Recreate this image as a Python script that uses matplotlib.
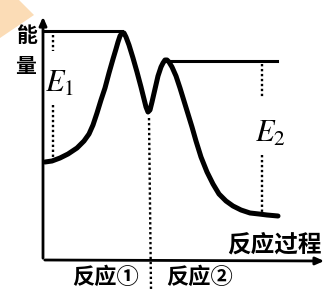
import matplotlib
matplotlib.use('Agg')
import matplotlib.pyplot as plt
from matplotlib.patches import Polygon

plt.rcParams['font.family'] = ['Noto Sans CJK SC', 'DejaVu Sans']
plt.rcParams['mathtext.fontset'] = 'stix'

# energy profile (x = progress, y = energy, pixel-like units, y grows downward)
curve_x = [45, 52, 60, 68, 77, 84, 89, 93, 97, 101, 105, 109, 113, 116, 118, 120, 122, 124, 126,
           129, 133, 137, 141, 144, 146, 148, 150, 152, 155, 158, 161, 163, 165, 167, 169, 172,
           176, 180, 184, 188, 192, 196, 201, 207, 213, 219, 226, 233, 241, 250, 259, 267, 278]
curve_y = [162, 161, 158, 154, 148, 141, 134, 125, 113, 100, 88, 73, 59, 49, 42, 36, 33, 33, 37,
           45, 58, 72, 87, 99, 107, 112, 110, 102, 89, 76, 67, 63, 60, 60, 62, 67,
           76, 88, 101, 114, 127, 141, 157, 172, 184, 194, 201, 206, 210, 213, 214, 215, 216]

peak1 = (122, 31)
peak2 = (167, 61)
left_x = 43
right_end = 277
e1_x = 53
e2_x = 262
mid_x = 149
axis_y = 260

fig = plt.figure(figsize=(3.29, 2.89), dpi=100)
ax = fig.add_axes([0, 0, 1, 1])
ax.set_xlim(0, 329)
ax.set_ylim(289, 0)
ax.axis('off')

# scanned corner tint
ax.add_patch(Polygon([(0, 0), (19, 0), (34, 15), (0, 38)], closed=True,
                     facecolor='#fbdcb6', edgecolor='none'))

# axes with arrows
ax.annotate('', xy=(left_x, 14), xytext=(left_x, axis_y + 1),
            arrowprops=dict(arrowstyle='-|>,head_length=0.5,head_width=0.22', lw=2, color='black'))
ax.annotate('', xy=(327, axis_y + 1), xytext=(left_x - 1, axis_y),
            arrowprops=dict(arrowstyle='-|>,head_length=0.5,head_width=0.22', lw=2, color='black'))

# reference levels
ax.plot([left_x, peak1[0]], [peak1[1], peak1[1]], color='black', lw=2.2)
ax.plot([peak2[0], right_end], [peak2[1], peak2[1]], color='black', lw=2.2)

# energy curve
ax.plot(curve_x, curve_y, color='black', lw=3.6, solid_joinstyle='round', solid_capstyle='round')

dot = dict(color='black', lw=1.7, linestyle=(0, (1, 1.1)))
ax.plot([e1_x, e1_x], [35, 51], **dot)
ax.plot([e1_x, e1_x], [105, 158], **dot)
ax.plot([e2_x, e2_x], [64, 97], **dot)
ax.plot([e2_x, e2_x], [155, 213], **dot)
ax.plot([mid_x, mid_x + 2], [118, 289], **dot)

# labels
ax.text(60, 83, r'$E_1$', fontsize=22, ha='center', va='center')
ax.text(270, 133, r'$E_2$', fontsize=22, ha='center', va='center')
ax.text(26, 35, '能', fontsize=15, fontweight='heavy', ha='center', va='center')
ax.text(26, 66, '量', fontsize=15, fontweight='heavy', ha='center', va='center')
ax.text(274, 245, '反应过程', fontsize=17, fontweight='heavy', ha='center', va='center')
ax.text(106, 277, '反应①', fontsize=16, fontweight='heavy', ha='center', va='center')
ax.text(200, 277, '反应②', fontsize=16, fontweight='heavy', ha='center', va='center')

fig.savefig('out.png', dpi=100)
